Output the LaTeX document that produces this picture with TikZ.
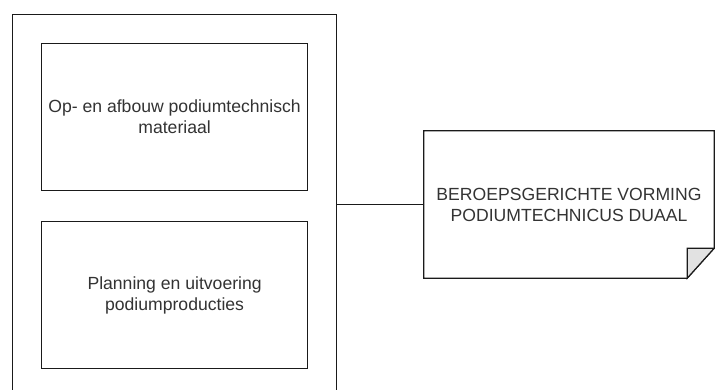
\documentclass[tikz,border=0pt]{standalone}
\usepackage{fontspec}
\setmainfont{Liberation Sans}
\usetikzlibrary{positioning}
\definecolor{ink}{HTML}{1A1A1A}
\definecolor{textgrey}{HTML}{333333}
\definecolor{foldfill}{HTML}{E2E2E2}
\newcommand{\labelsize}{\fontsize{17.6}{21}\selectfont}
\tikzset{
 every node/.append style={font=\labelsize,text=textgrey,align=center},
 frame/.style={draw=ink,line width=1.2pt,fill=white,inner sep=0pt},
 unit/.style={frame,minimum width=266pt,minimum height=147pt},
 notebody/.style={inner sep=0pt,minimum width=290pt,minimum height=147pt},
 outline/.style={draw=ink,line width=1.2pt,line join=miter},
 link/.style={draw=ink,line width=1.2pt},
}

\begin{document}
\begin{tikzpicture}[x=1pt,y=-1pt]

\useasboundingbox (0,0) rectangle (715,389);
\clip (0,0) rectangle (715,389);
\node[frame,minimum width=324pt,minimum height=400pt,anchor=north west] (kwalificatie) at (12,14) {};
\node[unit,anchor=north west] (opbouw) at (41,43) {Op- en afbouw podiumtechnisch\\materiaal};
\node[unit,below=30pt of opbouw] (planning) {Planning en uitvoering\\podiumproducties};
\node[notebody] (vorming) at (569,204.5) {BEROEPSGERICHTE VORMING\\PODIUMTECHNICUS DUAAL};
\draw[outline] (vorming.north west) -- (vorming.north east) -- ([yshift=30pt]vorming.south east) -- ([xshift=-27pt]vorming.south east) -- (vorming.south west) -- cycle;
\draw[outline,fill=foldfill] ([yshift=30pt]vorming.south east) -- ([xshift=-27pt,yshift=30pt]vorming.south east) -- ([xshift=-27pt]vorming.south east) -- cycle;
\draw[link] (vorming.west) -- (vorming.west -| kwalificatie.east);

\end{tikzpicture}
\end{document}
